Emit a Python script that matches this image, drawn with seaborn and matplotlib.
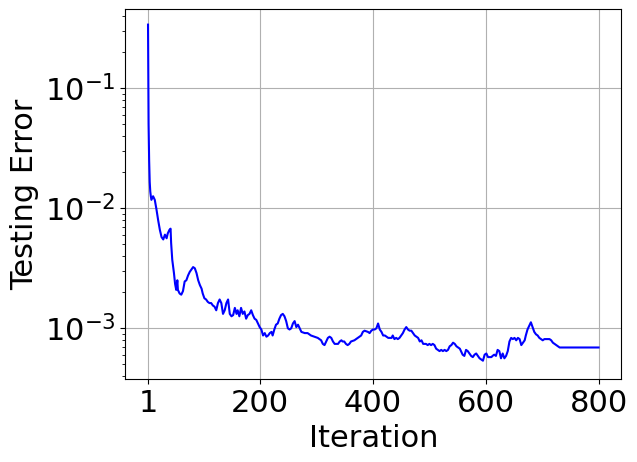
import numpy as np
import pandas as pd
import matplotlib
matplotlib.use("Agg")
import matplotlib.pyplot as plt
import seaborn as sns

iteration = [
    1, 2, 3, 4, 5, 6, 7, 10, 13, 16, 19, 22, 25, 28, 31, 34, 36, 39, 41, 42,
    44, 47, 49, 51, 53, 54, 57, 60, 63, 66, 69, 72, 75, 78, 81, 84, 87, 90, 93, 96,
    98, 101, 104, 107, 110, 113, 116, 119, 122, 125, 128, 131, 134, 137, 140, 143, 146, 149, 152, 155,
    158, 160, 163, 166, 169, 172, 175, 178, 181, 184, 187, 190, 193, 196, 199, 202, 205, 208, 211, 214,
    217, 220, 222, 225, 228, 231, 234, 237, 240, 243, 246, 249, 252, 255, 258, 261, 264, 267, 270, 273,
    279, 284, 290, 296, 302, 308, 311, 314, 317, 320, 323, 326, 329, 332, 338, 341, 344, 346, 349, 352,
    355, 358, 361, 367, 373, 379, 382, 385, 391, 394, 397, 400, 403, 406, 409, 412, 415, 418, 421, 424,
    427, 430, 433, 435, 438, 441, 444, 447, 450, 453, 456, 459, 462, 465, 468, 471, 474, 477, 480, 483,
    486, 489, 492, 494, 497, 500, 503, 506, 509, 512, 515, 518, 521, 524, 527, 530, 533, 536, 539, 542,
    545, 548, 551, 554, 556, 559, 562, 565, 568, 571, 574, 577, 580, 583, 586, 589, 592, 595, 598, 601,
    604, 607, 610, 612, 615, 618, 621, 624, 627, 630, 633, 636, 639, 642, 645, 648, 651, 654, 657, 660,
    663, 666, 669, 671, 674, 677, 680, 683, 686, 689, 692, 695, 698, 701, 704, 707, 710, 713, 716, 719,
    722, 725, 728, 731, 735, 760, 780, 800,
]

log10_error = [
    -0.47, -1.30, -1.60, -1.78, -1.86, -1.90, -1.93, -1.90, -1.93, -2.01, -2.10, -2.18, -2.24, -2.26, -2.22, -2.25, -2.21, -2.18, -2.17, -2.29,
    -2.43, -2.54, -2.63, -2.68, -2.60, -2.68, -2.71, -2.72, -2.69, -2.61, -2.60, -2.56, -2.53, -2.51, -2.49, -2.50, -2.54, -2.60, -2.64, -2.67,
    -2.71, -2.75, -2.76, -2.78, -2.79, -2.79, -2.81, -2.82, -2.85, -2.79, -2.76, -2.79, -2.88, -2.85, -2.79, -2.76, -2.88, -2.90, -2.89, -2.83,
    -2.88, -2.85, -2.90, -2.83, -2.88, -2.86, -2.92, -2.89, -2.88, -2.85, -2.89, -2.92, -2.93, -2.96, -2.99, -3.01, -3.06, -3.04, -3.07, -3.06,
    -3.04, -3.03, -3.06, -3.01, -2.97, -2.96, -2.92, -2.89, -2.88, -2.90, -2.94, -3.00, -3.01, -3.00, -2.96, -2.94, -2.99, -2.97, -3.00, -3.03,
    -3.04, -3.04, -3.06, -3.07, -3.08, -3.10, -3.13, -3.14, -3.11, -3.08, -3.07, -3.08, -3.11, -3.13, -3.13, -3.11, -3.10, -3.11, -3.11, -3.13,
    -3.14, -3.13, -3.11, -3.10, -3.08, -3.06, -3.03, -3.02, -3.03, -3.04, -3.02, -3.01, -3.01, -3.00, -2.96, -3.01, -3.03, -3.06, -3.06, -3.07,
    -3.08, -3.08, -3.08, -3.06, -3.09, -3.08, -3.09, -3.08, -3.06, -3.04, -3.01, -2.99, -3.01, -3.02, -3.02, -3.04, -3.06, -3.07, -3.08, -3.11,
    -3.10, -3.13, -3.13, -3.13, -3.14, -3.13, -3.14, -3.13, -3.14, -3.17, -3.18, -3.19, -3.18, -3.19, -3.18, -3.19, -3.18, -3.15, -3.14, -3.12,
    -3.13, -3.15, -3.16, -3.17, -3.19, -3.22, -3.23, -3.18, -3.19, -3.21, -3.23, -3.24, -3.22, -3.21, -3.23, -3.25, -3.26, -3.27, -3.22, -3.21,
    -3.24, -3.24, -3.24, -3.23, -3.22, -3.23, -3.18, -3.19, -3.25, -3.21, -3.25, -3.23, -3.19, -3.11, -3.08, -3.09, -3.08, -3.10, -3.08, -3.09,
    -3.14, -3.12, -3.10, -3.06, -3.01, -2.98, -2.95, -2.99, -3.03, -3.05, -3.06, -3.08, -3.09, -3.10, -3.09, -3.09, -3.09, -3.09, -3.10, -3.12,
    -3.13, -3.14, -3.15, -3.16, -3.16, -3.16, -3.16, -3.16,
]

x_ticks = [1, 200, 400, 600, 800]
x_label = "Iteration"
y_label = "Testing Error"

df = pd.DataFrame({"Iteration": iteration, "Error": np.power(10.0, log10_error)})

plt.rcParams["font.family"] = ["DejaVu Sans"]
plt.rcParams["font.size"] = 22

fig, ax = plt.subplots(figsize=(6.37, 4.62), dpi=100)
sns.lineplot(data=df, x="Iteration", y="Error", color="blue", linewidth=1.5, ax=ax)
ax.set_yscale("log")
ax.set_ylim(10 ** -3.425, 10 ** -0.342)
ax.set_xticks(x_ticks)
ax.set_xticklabels([str(t) for t in x_ticks])
ax.set_xlabel(x_label, fontsize=22)
ax.set_ylabel(y_label, fontsize=22)
ax.tick_params(labelsize=22)
ax.grid(True, which="major", color="#b0b0b0", linewidth=0.8)
fig.subplots_adjust(left=0.197, right=0.975, bottom=0.179, top=0.980)
fig.savefig("out.png", dpi=100)
